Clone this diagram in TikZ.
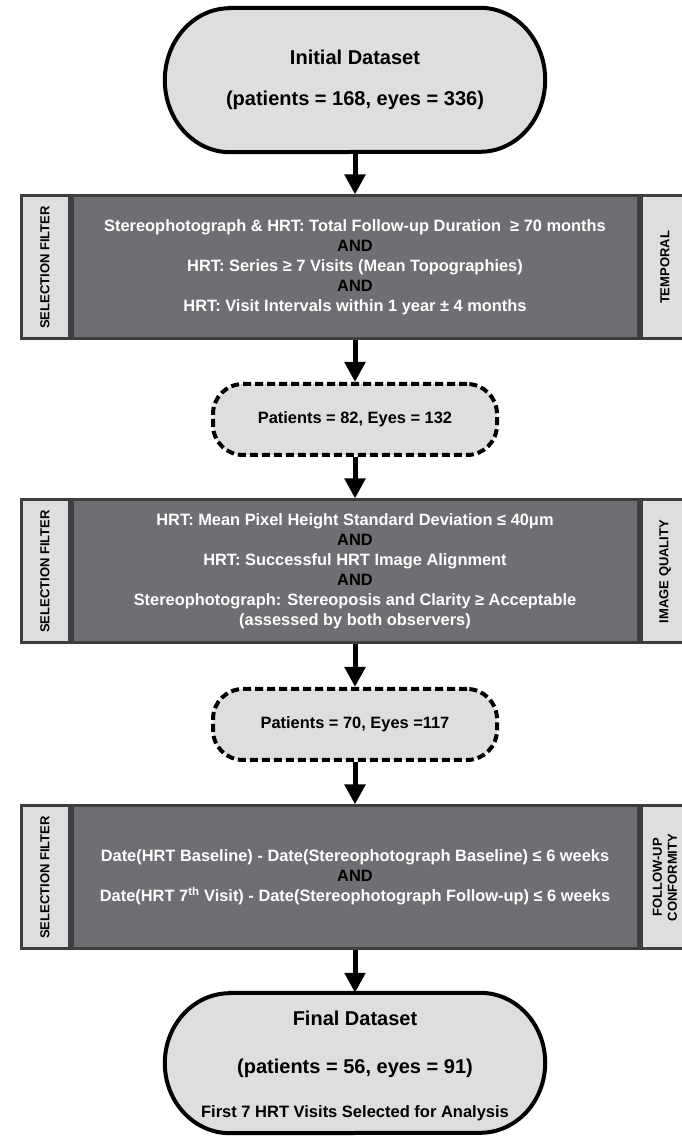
\documentclass[tikz,border=0pt]{standalone}
\usepackage{fontspec}
\setmainfont{Liberation Sans}
\usetikzlibrary{arrows.meta, positioning}
\definecolor{filtergray}{RGB}{110,111,115}
\definecolor{labelgray}{RGB}{221,222,224}
\definecolor{framegray}{RGB}{62,62,64}
\newcommand{\termshape}[2]
{   \filldraw[fill=labelgray, draw=black, line width=4pt] ([xshift=65pt]#1.north west) -- ([xshift=-65pt]#1.north east) arc (90:-90:65pt and #2) -- ([xshift=65pt]#1.south west) arc (270:90:65pt and #2) -- cycle;
}
\newcommand{\andline}{\textcolor{black}{AND}}

\begin{document}
\begin{tikzpicture}[x=1pt, y=1pt,
    termbox/.style={minimum width=380pt, minimum height=#1, inner sep=0pt},
    title/.style={font=\fontsize{20}{24}\selectfont\bfseries, inner sep=0pt},
    note/.style={font=\fontsize{16.5}{20}\selectfont\bfseries, inner sep=0pt},
    critbox/.style={draw=framegray, fill=filtergray, line width=3pt, text=white, align=center,
        minimum width=566pt, minimum height=143pt, font=\fontsize{16.4}{20}\selectfont\bfseries},
    sidebox/.style={draw=framegray, fill=labelgray, line width=3pt, rotate=90, align=center, inner sep=0pt,
        minimum width=143pt, minimum height=48pt, font=\fontsize{13}{15}\selectfont\bfseries},
    passbox/.style={draw=black, fill=labelgray, line width=4pt, dash pattern=on 8pt off 4pt, rounded corners=30pt,
        minimum width=284pt, minimum height=71pt, font=\fontsize{16.4}{20}\selectfont\bfseries},
    flow/.style={line width=5pt, -{Triangle[length=20pt, width=20pt]}}]
  \useasboundingbox (0,0) rectangle (682,1136);

  % initial dataset
  \node[termbox=144pt] (init) at (355,1056) {};
  \termshape{init}{72pt}
  \node[title] (initname) at (355,1079) {Initial Dataset};
  \node[title] (initcount) at (355,1036) {(patients = 168, eyes = 336)};

  % temporal filter
  \node[critbox] (filt1) at (355,868.5) {Stereophotograph \& HRT: Total Follow-up Duration\ \ ≥ 70 months\\ \andline\\
      HRT: Series ≥ 7 Visits (Mean Topographies)\\ \andline\\ HRT: Visit Intervals within 1 year ± 4 months};
  \node[sidebox, anchor=south] (sel1) at (filt1.west) {SELECTION FILTER};
  \node[sidebox, anchor=north] (temp1) at (filt1.east) {TEMPORAL};

  \node[passbox] (pass1) at (355,716.5) {Patients = 82, Eyes = 132};

  % image quality filter
  \node[critbox] (filt2) at (355,564.5) {HRT: Mean Pixel Height Standard Deviation ≤ 40μm\\ \andline\\
      HRT: Successful HRT Image Alignment\\ \andline\\ Stereophotograph: Stereoposis and Clarity ≥ Acceptable\\
      (assessed by both observers)};
  \node[sidebox, anchor=south] (sel2) at (filt2.west) {SELECTION FILTER};
  \node[sidebox, anchor=north] (qual2) at (filt2.east) {IMAGE QUALITY};

  \node[passbox] (pass2) at (355,411.5) {Patients = 70, Eyes =117};

  % follow-up filter
  \node[critbox] (filt3) at (355,258.5) {Date(HRT Baseline) - Date(Stereophotograph Baseline) ≤ 6 weeks\\ \andline\\
      Date(HRT 7\textsuperscript{th} Visit) - Date(Stereophotograph Follow-up) ≤ 6 weeks};
  \node[sidebox, anchor=south] (sel3) at (filt3.west) {SELECTION FILTER};
  \node[sidebox, anchor=north] (conf3) at (filt3.east) {FOLLOW-UP\\ CONFORMITY};

  % final dataset
  \node[termbox=140pt] (final) at (355,73) {};
  \termshape{final}{70pt}
  \node[title] (finalname) at (355,118) {Final Dataset};
  \node[title] (finalcount) at (355,68) {(patients = 56, eyes = 91)};
  \node[note] (finaluse) at (355,23) {First 7 HRT Visits Selected for Analysis};

  \draw[flow] (init.south) -- (filt1.north);
  \draw[flow] (filt1.south) -- (pass1.north);
  \draw[flow] (pass1.south) -- (filt2.north);
  \draw[flow] (filt2.south) -- (pass2.north);
  \draw[flow] (pass2.south) -- (filt3.north);
  \draw[flow] (filt3.south) -- (final.north);
\end{tikzpicture}
\end{document}
